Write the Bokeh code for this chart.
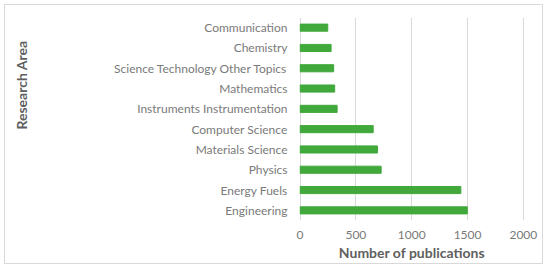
from bokeh.plotting import figure
from bokeh.models import ColumnDataSource, FixedTicker, Range1d, Title, LinearAxis
from bokeh.embed import file_html
from bokeh.resources import INLINE

categories = ["Engineering", "Energy Fuels", "Physics", "Materials Science", "Computer Science",
              "Instruments Instrumentation", "Mathematics", "Science Technology Other Topics",
              "Chemistry", "Communication"]
publications = [1498, 1440, 726, 693, 655, 332, 310, 301, 278, 248]
x_ticks = [0, 500, 1000, 1500, 2000]

ypos = list(range(len(categories)))
src = ColumnDataSource(dict(y=ypos, v=publications, cat=categories))

p = figure(width=539, height=260, output_backend="svg", toolbar_location=None,
           x_range=Range1d(-5, 2010), y_range=Range1d(-0.5, 9.5),
           min_border_left=294, min_border_right=20, min_border_top=12, min_border_bottom=45)
p.margin = (4, 4, 4, 4)
p.styles = {"border": "1.5px solid #d9d9d9"}
p.outline_line_color = None
p.background_fill_color = "white"
p.border_fill_color = "white"

p.hbar(y="y", right="v", left=0, height=0.35, source=src, color="#41a83b")

font = "Lato"
txt = "#7a7a7a"
p.xaxis.ticker = FixedTicker(ticks=x_ticks)
p.yaxis.ticker = FixedTicker(ticks=ypos)
p.yaxis.major_label_overrides = {i: c for i, c in enumerate(categories)}
for ax in (p.xaxis[0], p.yaxis[0]):
    ax.axis_line_color = None
    ax.major_tick_line_color = None
    ax.minor_tick_line_color = None
    ax.major_label_text_font = font
    ax.major_label_text_font_size = "12px"
    ax.major_label_text_color = txt
p.yaxis.major_label_standoff = 6
p.xaxis.major_label_standoff = 4

p.xaxis.axis_label = "Number of publications"
p.xaxis.axis_label_text_font = font
p.xaxis.axis_label_text_font_size = "14px"
p.xaxis.axis_label_text_font_style = "bold"
p.xaxis.axis_label_text_color = "#606060"
p.xaxis.axis_label_standoff = 2

p.xgrid.ticker = FixedTicker(ticks=x_ticks)
p.xgrid.grid_line_color = "#d9d9d9"
p.ygrid.grid_line_color = None

# blank spacer axis (invisible tick, empty label) that pushes the axis title outwards
spacer = LinearAxis(ticker=FixedTicker(ticks=[0]), axis_line_color=None,
                    major_tick_line_color=None, minor_tick_line_color=None,
                    major_tick_out=82, minor_tick_out=0, major_tick_in=0,
                    major_label_overrides={0: ""}, major_label_standoff=0)
p.add_layout(spacer, "left")

p.add_layout(Title(text="Research Area", align="right", offset=23, standoff=0, text_font=font,
                   text_font_size="14px", text_font_style="bold", text_color="#606060"), "left")

open("out.html", "w").write(file_html(p, INLINE))
